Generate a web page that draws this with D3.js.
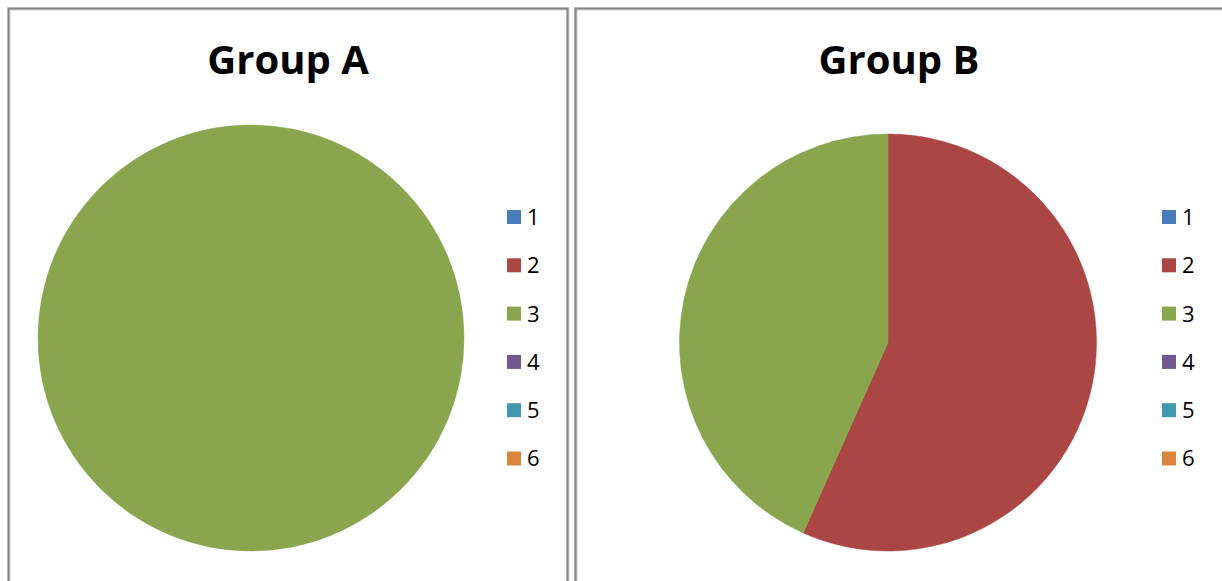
<!DOCTYPE html>
<html><head><meta charset="utf-8">
<script src="https://cdn.jsdelivr.net/npm/d3@7"></script>
<style>html,body{margin:0;padding:0;background:#fff;overflow:hidden}</style>
</head><body>
<script>
const categories = ["1","2","3","4","5","6"];
const colors = ["#4a7ebb","#aa4643","#89a54e","#71588f","#4198af","#db843d"];
const groupNames = ["Group A","Group B"];
const groupAValues = [0, 0, 10, 0, 0, 0];
const groupBValues = [0, 17, 13, 0, 0, 0];

const W = 1222, H = 581;
const svg = d3.select("body").append("svg").attr("width", W).attr("height", H);

const panels = [
  {name: groupNames[0], values: groupAValues, x0: 9, x1: 568, titleX: 288, cx: 251, cy: 338, r: 213, lx: 507, tx: 527},
  {name: groupNames[1], values: groupBValues, x0: 576, x1: 1226, titleX: 899, cx: 888, cy: 342.5, r: 208.5, lx: 1162, tx: 1182}
];

const color = d3.scaleOrdinal().domain(categories).range(colors);
const legendY = d3.scalePoint().domain(categories).range([217, 458.5]);

panels.forEach(p => {
  const g = svg.append("g");
  g.append("rect").attr("x", p.x0).attr("y", 9).attr("width", p.x1 - p.x0).attr("height", H + 20)
    .attr("fill", "none").attr("stroke", "#d0d0d0").attr("stroke-width", 3);
  g.append("rect").attr("x", p.x0 - 0.5).attr("y", 8.5).attr("width", p.x1 - p.x0).attr("height", H + 20)
    .attr("fill", "none").attr("stroke", "#868686").attr("stroke-width", 2);

  g.append("text").attr("x", p.titleX).attr("y", 74)
    .attr("text-anchor", "middle").attr("font-family", "'Open Sans', sans-serif")
    .attr("font-weight", "bold").attr("font-size", 40).attr("fill", "#000").text(p.name);

  const data = categories.map((c, i) => ({cat: c, value: p.values[i]}));
  const pie = d3.pie().sort(null).value(d => d.value);
  const arc = d3.arc().innerRadius(0).outerRadius(p.r);
  g.append("g").attr("transform", `translate(${p.cx},${p.cy})`)
    .selectAll("path").data(pie(data).filter(d => d.data.value > 0)).join("path")
    .attr("d", arc).attr("fill", d => color(d.data.cat))
    .attr("stroke", d => color(d.data.cat)).attr("stroke-width", 0.5);

  const lg = g.append("g");
  categories.forEach(c => {
    lg.append("rect").attr("x", p.lx).attr("y", legendY(c) - 7).attr("width", 14).attr("height", 14)
      .attr("fill", color(c));
    lg.append("text").attr("x", p.tx).attr("y", legendY(c)).attr("dy", "0.36em")
      .attr("font-family", "'Open Sans', sans-serif").attr("font-size", 22).attr("fill", "#000").text(c);
  });
});
</script>
</body></html>
